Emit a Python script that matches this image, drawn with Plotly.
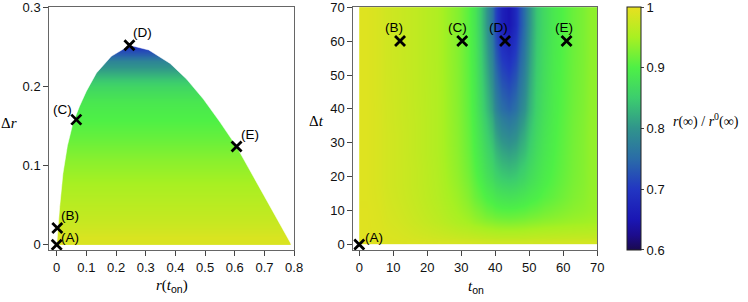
import plotly.graph_objects as go

# ---------------- data ----------------
# Left panel: colour field (cell edges along r, cell edges along Δr, cell values)
left_r_edges = [0.0, 0.4, 0.79]
left_dr_edges = [0.0, 0.02, 0.045, 0.07, 0.095, 0.12, 0.145, 0.17, 0.19, 0.21, 0.225, 0.24, 0.26]
left_profile = [0.988, 0.972, 0.960, 0.947, 0.933, 0.915, 0.900, 0.887, 0.862, 0.820, 0.780, 0.700]

# Left panel: boundary of the reachable region
boundary_r = [0.0, 0.005, 0.01, 0.021, 0.036, 0.055, 0.077, 0.100, 0.134, 0.184, 0.246,
              0.31, 0.382, 0.438, 0.494, 0.55, 0.606, 0.70, 0.791]
boundary_dr = [0.0, 0.025, 0.048, 0.09, 0.125, 0.154, 0.175, 0.194, 0.217, 0.238, 0.252,
               0.246, 0.229, 0.209, 0.184, 0.155, 0.124, 0.061, 0.0]

# Right panel: colour field on (t_on, Δt) cells
t_on_edges = [0, 4, 8, 14, 20, 26, 32, 36, 39, 41, 43, 45, 47, 50, 54, 60, 66, 70]
dt_edges = [0, 2, 5, 8, 12, 16, 20, 25, 30, 35, 40, 50, 60, 70]
right_z = [
    [0.993, 0.992, 0.990, 0.988, 0.986, 0.984, 0.982, 0.980, 0.979, 0.979, 0.979, 0.979, 0.979, 0.980, 0.981, 0.982, 0.982],
    [0.993, 0.991, 0.987, 0.981, 0.975, 0.968, 0.962, 0.958, 0.956, 0.955, 0.955, 0.955, 0.956, 0.958, 0.960, 0.962, 0.963],
    [0.993, 0.990, 0.984, 0.976, 0.967, 0.955, 0.943, 0.935, 0.931, 0.929, 0.928, 0.929, 0.931, 0.935, 0.940, 0.945, 0.948],
    [0.993, 0.989, 0.982, 0.973, 0.963, 0.948, 0.930, 0.915, 0.908, 0.905, 0.904, 0.905, 0.908, 0.915, 0.925, 0.935, 0.941],
    [0.992, 0.988, 0.980, 0.971, 0.960, 0.943, 0.917, 0.898, 0.887, 0.882, 0.880, 0.882, 0.888, 0.898, 0.912, 0.928, 0.939],
    [0.992, 0.987, 0.979, 0.970, 0.959, 0.939, 0.910, 0.884, 0.868, 0.860, 0.857, 0.860, 0.870, 0.887, 0.906, 0.925, 0.938],
    [0.992, 0.987, 0.979, 0.970, 0.958, 0.936, 0.903, 0.872, 0.850, 0.838, 0.833, 0.838, 0.854, 0.879, 0.902, 0.923, 0.938],
    [0.992, 0.987, 0.979, 0.969, 0.957, 0.934, 0.898, 0.863, 0.833, 0.816, 0.809, 0.816, 0.836, 0.872, 0.899, 0.922, 0.938],
    [0.992, 0.987, 0.979, 0.969, 0.957, 0.933, 0.895, 0.853, 0.814, 0.793, 0.784, 0.794, 0.822, 0.866, 0.897, 0.921, 0.938],
    [0.992, 0.987, 0.978, 0.969, 0.957, 0.932, 0.892, 0.842, 0.796, 0.771, 0.760, 0.772, 0.806, 0.860, 0.895, 0.920, 0.937],
    [0.992, 0.986, 0.978, 0.968, 0.957, 0.931, 0.889, 0.828, 0.770, 0.738, 0.725, 0.742, 0.786, 0.854, 0.893, 0.918, 0.936],
    [0.992, 0.986, 0.977, 0.968, 0.956, 0.930, 0.886, 0.813, 0.742, 0.703, 0.688, 0.711, 0.768, 0.848, 0.891, 0.917, 0.935],
    [0.992, 0.986, 0.977, 0.968, 0.956, 0.930, 0.884, 0.800, 0.716, 0.669, 0.648, 0.683, 0.753, 0.843, 0.889, 0.916, 0.935],
]

# Marked cases
case_labels = ["(A)", "(B)", "(C)", "(D)", "(E)"]
case_r = [0.0, 0.002, 0.066, 0.245, 0.606]
case_dr = [0.0, 0.021, 0.158, 0.252, 0.124]
case_ton = [0, 12, 30.3, 42.9, 61]
case_dt = [0, 60, 60, 60, 60]

cbar_ticks = [0.6, 0.7, 0.8, 0.9, 1.0]
cbar_text = ["0.6", "0.7", "0.8", "0.9", "1"]

# ---------------- style ----------------
W, H = 748, 302
colorscale = [
    [0.0, "#1a0a4f"], [0.06, "#1c0c8c"], [0.125, "#1a16b4"], [0.25, "#2236c2"],
    [0.375, "#2a6ca8"], [0.5, "#30948c"], [0.625, "#3ccd6e"], [0.75, "#4ef046"],
    [0.875, "#a8f022"], [1.0, "#e8e020"],
]
SANS = "Liberation Sans, Arial, sans-serif"
SERIF = "Liberation Serif, Times New Roman, serif"
zmin, zmax = 0.5999, 1.0001

left_z = [[v, v] for v in left_profile]

fig = go.Figure()

fig.add_trace(go.Heatmap(
    x=left_r_edges, y=left_dr_edges, z=left_z, zsmooth="best",
    colorscale=colorscale, zmin=zmin, zmax=zmax, showscale=False,
    xaxis="x", yaxis="y", hoverinfo="skip"))

# white mask above the boundary curve
mask_x = list(boundary_r) + [0.83, 0.83, -0.03, -0.03, 0.0]
mask_y = list(boundary_dr) + [0.0, 0.31, 0.31, 0.0, 0.0]
fig.add_trace(go.Scatter(
    x=mask_x, y=mask_y, mode="lines", fill="toself", fillcolor="white",
    line=dict(width=0.5, color="white"), xaxis="x", yaxis="y",
    hoverinfo="skip", showlegend=False))

fig.add_trace(go.Heatmap(
    x=t_on_edges, y=dt_edges, z=right_z, zsmooth="best",
    colorscale=colorscale, zmin=zmin, zmax=zmax, showscale=True,
    xaxis="x2", yaxis="y2", hoverinfo="skip",
    colorbar=dict(
        x=627 / W, xanchor="left", xref="paper", xpad=0,
        y=1 - 7 / H, yanchor="top", yref="paper", ypad=0,
        len=243 / H, lenmode="fraction", thickness=14,
        outlinewidth=1, outlinecolor="#222",
        tickvals=cbar_ticks, ticktext=cbar_text,
        ticks="outside", ticklen=3, tickwidth=1, tickcolor="#444",
        ticklabeloverflow="allow",
        tickfont=dict(family=SANS, size=13, color="#111"),
    )))

marker = dict(symbol="x-thin", size=10, color="black", line=dict(width=2.8, color="black"))
fig.add_trace(go.Scatter(x=case_r, y=case_dr, mode="markers", marker=marker,
                         xaxis="x", yaxis="y", showlegend=False, hoverinfo="skip"))
fig.add_trace(go.Scatter(x=case_ton, y=case_dt, mode="markers", marker=marker,
                         xaxis="x2", yaxis="y2", showlegend=False, hoverinfo="skip"))

left_shift = [(13, 7.5), (12.7, 12.6), (-13.5, 9.7), (12.7, 13), (13.3, 11.7)]
right_shift = [(14.7, 7.4), (-6, 14), (-4.8, 14), (-6.5, 14), (-2.7, 14)]
ann = []
for lab, xx, yy, (sx, sy) in zip(case_labels, case_r, case_dr, left_shift):
    ann.append(dict(x=xx, y=yy, xref="x", yref="y", text=lab, showarrow=False,
                    xshift=sx, yshift=sy, font=dict(family=SANS, size=13.5, color="black")))
for lab, xx, yy, (sx, sy) in zip(case_labels, case_ton, case_dt, right_shift):
    ann.append(dict(x=xx, y=yy, xref="x2", yref="y2", text=lab, showarrow=False,
                    xshift=sx, yshift=sy, font=dict(family=SANS, size=13.5, color="black")))

on_sub = "<sub><span style='font-family:Liberation Sans;font-style:normal'>on</span></sub>"
titles = [
    ("Δ<i>r</i>", 9, 123),
    ("<i>r</i>(<i>t</i>" + on_sub + ")", 171.5, 286),
    ("Δ<i>t</i>", 316, 121),
    ("<i>t</i>" + on_sub, 475.5, 287),
]
for txt, px, py in titles:
    ann.append(dict(x=px / W, y=1 - py / H, xref="paper", yref="paper", text=txt,
                    showarrow=False, xanchor="center", yanchor="middle",
                    font=dict(family=SERIF, size=15, color="black")))
ann.append(dict(x=671 / W, y=1 - 121 / H, xref="paper", yref="paper",
                text="<i>r</i>(∞) / <i>r</i><sup>0</sup>(∞)", showarrow=False,
                xanchor="left", yanchor="middle",
                font=dict(family=SERIF, size=14, color="black")))

axis_common = dict(showgrid=False, zeroline=False, showline=True, linecolor="#666",
                   linewidth=1, mirror=True, ticks="outside", ticklen=5, tickwidth=1,
                   tickcolor="#444", ticklabeloverflow="allow", automargin=False,
                   tickfont=dict(family=SANS, size=13, color="#111"))

fig.update_layout(
    width=W, height=H, margin=dict(l=0, r=0, t=0, b=0, autoexpand=False),
    paper_bgcolor="white", plot_bgcolor="white", showlegend=False,
    xaxis=dict(domain=[49.3 / W, 294.3 / W], range=[-0.025, 0.8005],
               tickvals=[0, 0.1, 0.2, 0.3, 0.4, 0.5, 0.6, 0.7, 0.8], **axis_common),
    yaxis=dict(domain=[1 - 250 / H, 1 - 7 / H], range=[-0.0067, 0.3003],
               tickvals=[0, 0.1, 0.2, 0.3], **axis_common),
    xaxis2=dict(domain=[353.3 / W, 597.3 / W], range=[-1.75, 70.05], anchor="y2",
                tickvals=[0, 10, 20, 30, 40, 50, 60, 70], **axis_common),
    yaxis2=dict(domain=[1 - 250 / H, 1 - 7 / H], range=[-1.6, 70.05], anchor="x2",
                tickvals=[0, 10, 20, 30, 40, 50, 60, 70], **axis_common),
    annotations=ann,
)

fig.write_html("out.html", config={"displayModeBar": False},
               post_script="document.body.style.margin='0';document.body.style.overflow='hidden';")
